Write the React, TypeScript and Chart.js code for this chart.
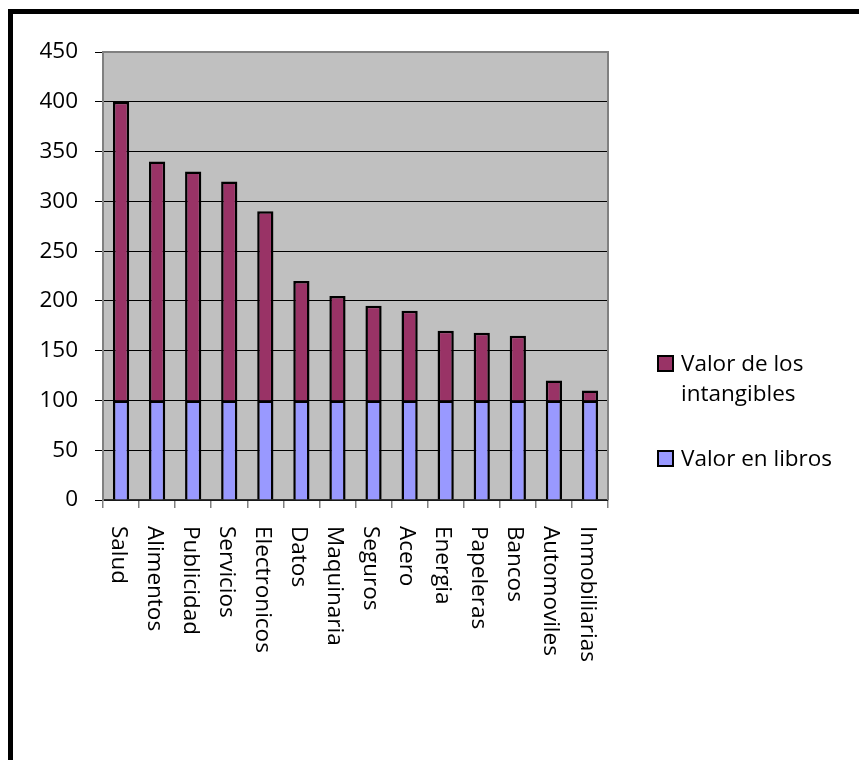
import React, { useEffect, useRef } from "react";
import { Chart, registerables } from "chart.js";

Chart.register(...registerables);

const categories = [
  "Salud", "Alimentos", "Publicidad", "Servicios", "Electronicos", "Datos", "Maquinaria",
  "Seguros", "Acero", "Energia", "Papeleras", "Bancos", "Automoviles", "Inmobiliarias",
];
const valorEnLibros = [100, 100, 100, 100, 100, 100, 100, 100, 100, 100, 100, 100, 100, 100];
const valorIntangibles = [300, 240, 230, 220, 190, 120, 105, 95, 90, 70, 68, 65, 20, 10];
const seriesNames = ["Valor en libros", "Valor de los intangibles"];
const yTicks = [0, 50, 100, 150, 200, 250, 300, 350, 400, 450];

const FONT = "'Open Sans', sans-serif";
const FS = 22.5;
const BLUE = "#9999FF";
const PLUM = "#993366";

export default function App() {
  const ref = useRef<HTMLCanvasElement | null>(null);

  useEffect(() => {
    if (!ref.current) return;
    const bgPlugin = {
      id: "plotBg",
      beforeDraw(chart: any) {
        const { ctx, chartArea: a } = chart;
        ctx.save();
        ctx.fillStyle = "#C0C0C0";
        ctx.fillRect(a.left, a.top, a.right - a.left, a.bottom - a.top);
        ctx.restore();
      },
      afterDraw(chart: any) {
        const { ctx, chartArea: a } = chart;
        ctx.save();
        ctx.strokeStyle = "#808080";
        ctx.lineWidth = 2;
        ctx.beginPath();
        ctx.moveTo(a.left, a.top);
        ctx.lineTo(a.right, a.top);
        ctx.lineTo(a.right, a.bottom);
        ctx.stroke();
        // rotated category labels (reading top to bottom)
        const xs = chart.scales.x;
        ctx.fillStyle = "#000";
        ctx.font = `${FS}px ${FONT}`;
        ctx.textAlign = "left";
        ctx.textBaseline = "middle";
        categories.forEach((c, i) => {
          const px = xs.getPixelForTick(i);
          ctx.save();
          ctx.translate(px - 3, a.bottom + 26);
          ctx.rotate(Math.PI / 2);
          ctx.fillText(c, 0, 0);
          ctx.restore();
        });
        ctx.restore();
      },
    };

    const chart = new Chart(ref.current, {
      type: "bar",
      data: {
        labels: categories,
        datasets: [
          {
            label: seriesNames[0],
            data: valorEnLibros,
            backgroundColor: BLUE,
            borderColor: "#000",
            borderWidth: 2.5,
            barPercentage: 0.45,
            categoryPercentage: 1,
          },
          {
            label: seriesNames[1],
            data: valorIntangibles,
            backgroundColor: PLUM,
            borderColor: "#000",
            borderWidth: 2.5,
            barPercentage: 0.45,
            categoryPercentage: 1,
          },
        ],
      },
      options: {
        responsive: false,
        animation: false,
        devicePixelRatio: 1,
        layout: { padding: { top: 52, right: 251, left: 0, bottom: 0 } },
        plugins: { legend: { display: false }, tooltip: { enabled: false } },
        scales: {
          x: {
            stacked: true,
            afterFit(scale: any) {
              scale.height = 260;
            },
            grid: {
              display: true,
              offset: true,
              drawOnChartArea: false,
              drawTicks: true,
              tickLength: 8,
              color: "#808080",
              lineWidth: 1.5,
            },
            border: { display: true, color: "#303030", width: 1.5 },
            ticks: { display: false },
          },
          y: {
            stacked: true,
            min: 0,
            max: 450,
            afterFit(scale: any) {
              scale.width = 103;
            },
            afterBuildTicks(scale: any) {
              scale.ticks = yTicks.map((v) => ({ value: v }));
            },
            grid: {
              color: "#000",
              lineWidth: 1,
              tickLength: 8,
              drawTicks: true,
            },
            border: { display: true, color: "#808080", width: 2 },
            ticks: {
              color: "#000",
              font: { family: FONT, size: FS },
              padding: 17,
            },
          },
        },
      },
      plugins: [bgPlugin],
    });
    return () => chart.destroy();
  }, []);

  const legendItem = (color: string, lines: string[], top: number) => (
    <div style={{ position: "absolute", left: 657, top, fontFamily: FONT, fontSize: FS, lineHeight: "30px", color: "#000" }}>
      <div style={{ position: "absolute", left: 0, top: 7, width: 13, height: 13, background: color, border: "2px solid #000" }} />
      <div style={{ position: "absolute", left: 24, top: 0, whiteSpace: "nowrap" }}>
        {lines.map((l, i) => (
          <div key={i}>{l}</div>
        ))}
      </div>
    </div>
  );

  return (
    <div style={{ position: "fixed", left: 0, top: 0, width: 859, height: 760, overflow: "hidden", background: "#fff" }}>
      <div style={{ position: "absolute", left: 8, top: 9, width: 900, height: 800, border: "5px solid #000", boxSizing: "border-box" }} />
      <canvas ref={ref} width={859} height={760} style={{ position: "absolute", left: 0, top: 0, width: 859, height: 760 }} />
      {legendItem(PLUM, ["Valor de los", "intangibles"], 348)}
      {legendItem(BLUE, ["Valor en libros"], 443)}
    </div>
  );
}
